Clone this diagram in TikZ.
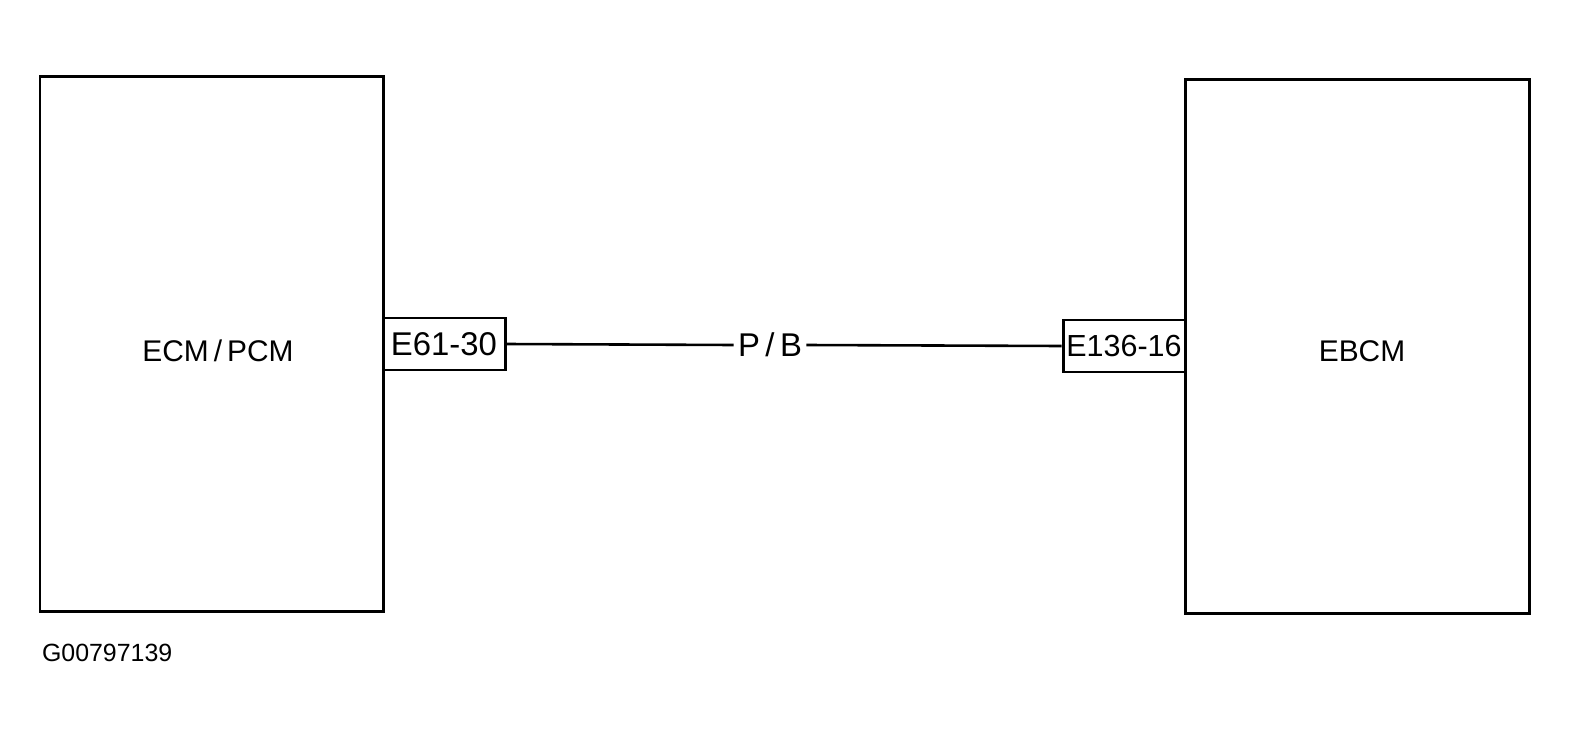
\documentclass[tikz,border=0pt]{standalone}
\usepackage{fontspec}
\setmainfont{Liberation Sans}
\begin{document}
\begin{tikzpicture}[x=0.5bp,y=-0.5bp,
  module/.style={draw,line width=1.5pt,inner sep=0pt},
  conn/.style={draw,line width=1.5pt,inner sep=0pt,minimum width=61bp,minimum height=26bp},
  lbl/.style={font=\fontsize{15}{17}\selectfont}]
\useasboundingbox (0,0) rectangle (1575,738);
\node[module,minimum width=171.5bp,minimum height=267bp] (ecm) at (211.5,344) {};
\node[lbl] at (218,351) {ECM\,/\,PCM};
\node[module,minimum width=172bp,minimum height=266.5bp] (ebcm) at (1357,346.5) {};
\node[lbl] at (1362,351) {EBCM};
\node[conn,font=\fontsize{16.5}{18}\selectfont] (c1) at (444,344) {E61-30};
\node[conn,font=\fontsize{15.3}{18}\selectfont] (c2) at (1124,346) {E136-16};
\node[fill=white,inner sep=2pt,font=\fontsize{16.5}{18}\selectfont] (pb) at (770,345) {P\,/\,B};
\draw[line width=1.3pt] (c1.east) -- (pb.west);
\draw[line width=1.3pt] (pb.east) -- (c2.west);
\node[anchor=west,font=\fontsize{12.5}{14}\selectfont] (gid) at (35,653) {G00797139};
\end{tikzpicture}
\end{document}
